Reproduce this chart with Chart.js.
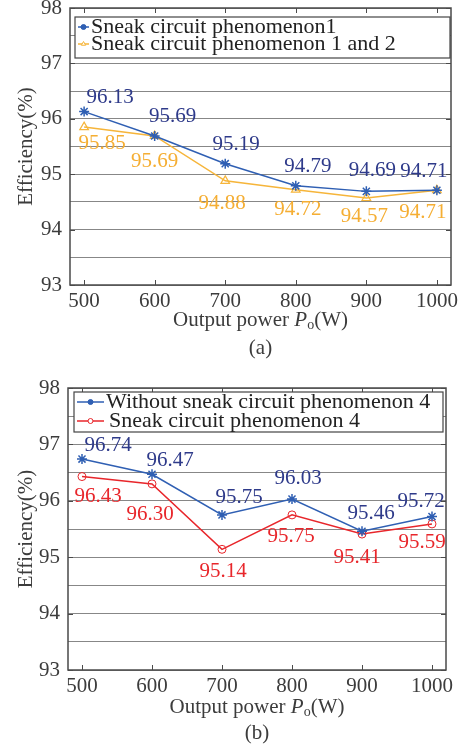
<!DOCTYPE html>
<html>
<head>
<meta charset="utf-8">
<script src="https://cdn.jsdelivr.net/npm/chart.js@4"></script>
<style>
  html, body { margin: 0; padding: 0; background: #fff; }
  canvas { display: block; }
</style>
</head>
<body>
<canvas id="chart-a" width="459" height="370"></canvas>
<canvas id="chart-b" width="459" height="379"></canvas>
<script>
// data
const powers = [500, 600, 700, 800, 900, 1000];
const yTickValues = [93, 94, 95, 96, 97, 98];

const effA1 = [96.13, 95.69, 95.19, 94.79, 94.69, 94.71]; // Sneak circuit phenomenon1
const effA2 = [95.85, 95.69, 94.88, 94.72, 94.57, 94.71]; // phenomenon 1 and 2
const effB1 = [96.74, 96.47, 95.75, 96.03, 95.46, 95.72]; // without phenomenon 4
const effB2 = [96.43, 96.30, 95.14, 95.75, 95.41, 95.59]; // phenomenon 4

// value-label offsets (px) relative to each point
const offA1 = [[26, -14], [18, -19], [11, -19], [12, -19], [6, -21], [-13, -19]];
const offA2 = [[18, 16], [0, 26], [-3, 23], [2, 20], [-2, 18], [-14, 22]];
const offB1 = [[26, -14], [18, -14], [17, -17], [6, -21], [9, -18], [-11, -15]];
const offB2 = [[16, 20], [-2, 31], [1, 22], [-1, 22], [-5, 23], [-10, 19]];

const SERIF = "'Liberation Serif', 'Times New Roman', serif";
const AXIS_GREY = "#3c3c3c";

const pts = (ys) => powers.map((x, i) => ({ x, y: ys[i] }));

// value labels next to each point
const valueLabels = {
  id: "valueLabels",
  afterDatasetsDraw(chart) {
    const ctx = chart.ctx;
    ctx.save();
    ctx.font = `21px ${SERIF}`;
    ctx.textAlign = "center";
    ctx.textBaseline = "middle";
    chart.data.datasets.forEach((ds, di) => {
      const meta = chart.getDatasetMeta(di);
      meta.data.forEach((p, i) => {
        const [dx, dy] = ds.labelOffsets[i];
        ctx.fillStyle = ds.labelColor;
        ctx.fillText(ds.data[i].y.toFixed(2), p.x + dx, p.y + dy);
      });
    });
    ctx.restore();
  },
};

// box frame, inward ticks, x title, caption and the in-plot legend
const frame = {
  id: "frame",
  afterDraw(chart, args, opts) {
    const { ctx, chartArea: a, scales } = chart;
    ctx.save();
    ctx.strokeStyle = "#4a4a4a";
    ctx.lineWidth = 1.5;
    ctx.strokeRect(a.left, a.top, a.right - a.left, a.bottom - a.top);
    ctx.lineWidth = 1;
    powers.forEach((v) => {
      const x = Math.round(scales.x.getPixelForValue(v)) + 0.5;
      ctx.beginPath();
      ctx.moveTo(x, a.top); ctx.lineTo(x, a.top + 5);
      ctx.moveTo(x, a.bottom); ctx.lineTo(x, a.bottom - 5);
      ctx.stroke();
    });
    yTickValues.forEach((v) => {
      const y = Math.round(scales.y.getPixelForValue(v)) + 0.5;
      ctx.beginPath();
      ctx.moveTo(a.left, y); ctx.lineTo(a.left + 5, y);
      ctx.moveTo(a.right, y); ctx.lineTo(a.right - 5, y);
      ctx.stroke();
    });

    // x-axis title: Output power P_o(W)
    const cx = (a.left + a.right) / 2;
    const ty = a.bottom + opts.titleGap;
    const parts = [
      { t: "Output power ", f: `21px ${SERIF}`, dy: 0 },
      { t: "P", f: `italic 21px ${SERIF}`, dy: 0 },
      { t: "o", f: `14px ${SERIF}`, dy: 5 },
      { t: "(W)", f: `21px ${SERIF}`, dy: 0 },
    ];
    let total = 0;
    parts.forEach((p) => { ctx.font = p.f; p.w = ctx.measureText(p.t).width; total += p.w; });
    let x = cx - total / 2;
    ctx.fillStyle = AXIS_GREY;
    ctx.textBaseline = "middle";
    ctx.textAlign = "left";
    parts.forEach((p) => { ctx.font = p.f; ctx.fillText(p.t, x, ty + p.dy); x += p.w; });

    ctx.font = `21px ${SERIF}`;
    ctx.textAlign = "center";
    ctx.fillText(opts.caption, cx, a.bottom + opts.captionGap);

    // legend
    const L = opts.legend;
    ctx.fillStyle = "#fff";
    ctx.fillRect(L.x, L.y, L.w, L.h);
    ctx.strokeStyle = "#444";
    ctx.lineWidth = 1.2;
    ctx.strokeRect(L.x, L.y, L.w, L.h);
    chart.data.datasets.forEach((ds, i) => {
      const ry = L.y + L.rowTop + i * L.rowGap;
      ctx.strokeStyle = ds.borderColor;
      ctx.lineWidth = 1.5;
      ctx.beginPath();
      ctx.moveTo(L.x + 3, ry); ctx.lineTo(L.x + 3 + L.lineLen, ry);
      ctx.stroke();
      ctx.fillStyle = ds.legendFill;
      ctx.strokeStyle = ds.pointBorderColor;
      ctx.lineWidth = 1;
      Chart.helpers.drawPoint(ctx, { pointStyle: ds.legendStyle, radius: 2.5, rotation: 0, borderWidth: 1 },
        L.x + 3 + L.lineLen / 2, ry);
      ctx.fillStyle = "#222";
      ctx.textAlign = "left";
      ctx.textBaseline = "middle";
      ctx.font = `22px ${SERIF}`;
      ctx.fillText(ds.label, L.x + L.textX + (ds.textShift || 0), ry);
    });
    ctx.restore();
  },
};

function makeChart(id, datasets, layout) {
  return new Chart(document.getElementById(id), {
    type: "line",
    data: { datasets },
    plugins: [valueLabels, frame],
    options: {
      responsive: false,
      animation: false,
      layout: { padding: { left: 0, right: layout.right, top: layout.top, bottom: 0 } },
      plugins: {
        legend: { display: false },
        tooltip: { enabled: false },
        frame: layout.frame,
      },
      scales: {
        x: {
          type: "linear",
          min: 480,
          max: 1020,
          afterBuildTicks: (s) => { s.ticks = powers.map((v) => ({ value: v })); },
          afterFit: (s) => { s.height = layout.xHeight; s.paddingLeft = 0; s.paddingRight = 0; },
          ticks: {
            color: AXIS_GREY, padding: -4, autoSkip: false, maxRotation: 0,
            font: { family: SERIF, size: 21 },
            callback: (v) => String(v),
          },
          grid: { display: false },
          border: { display: false },
        },
        y: {
          min: 93,
          max: 98,
          afterFit: (s) => { s.width = layout.yWidth; s.paddingTop = 0; s.paddingBottom = 0; },
          ticks: {
            stepSize: 0.5,
            padding: 8,
            autoSkip: false,
            color: AXIS_GREY,
            font: { family: SERIF, size: 21 },
            callback: (v) => (yTickValues.includes(v) ? String(v) : ""),
          },
          grid: { color: "#878787", lineWidth: 1, drawTicks: false },
          border: { display: false },
          title: {
            display: true,
            text: "Efficiency(%)",
            color: AXIS_GREY,
            font: { family: SERIF, size: 21 },
            padding: { top: 14, bottom: 0 },
          },
        },
      },
    },
  });
}

const lineStyle = { borderWidth: 1.5, tension: 0, fill: false };

makeChart("chart-a", [
  {
    ...lineStyle,
    label: "Sneak circuit phenomenon1",
    data: pts(effA1),
    borderColor: "#2f5fb3",
    pointStyle: "star",
    pointRadius: 5,
    pointBorderWidth: 1.5,
    pointBorderColor: "#2f5fb3",
    pointBackgroundColor: "#2f5fb3",
    legendStyle: "circle",
    legendFill: "#2f5fb3",
    labelColor: "#2e3a8a",
    labelOffsets: offA1,
    order: 1,
  },
  {
    ...lineStyle,
    label: "Sneak circuit phenomenon 1 and 2",
    data: pts(effA2),
    borderColor: "#f6b53a",
    pointStyle: "triangle",
    pointRadius: 5,
    pointBorderWidth: 1.2,
    pointBorderColor: "#f6b53a",
    pointBackgroundColor: "rgba(255,255,255,0)",
    legendStyle: "triangle",
    legendFill: "#fff",
    labelColor: "#f5ae33",
    labelOffsets: offA2,
    order: 2,
  },
], {
  right: 8, top: 8, xHeight: 85, yWidth: 70,
  frame: {
    caption: "(a)", titleGap: 35, captionGap: 63,
    legend: { x: 75, y: 17, w: 375, h: 41, rowTop: 10, rowGap: 17, lineLen: 11, textX: 16 },
  },
});

makeChart("chart-b", [
  {
    ...lineStyle,
    label: "Without sneak circuit phenomenon 4",
    data: pts(effB1),
    borderColor: "#2f5fb3",
    pointStyle: "star",
    pointRadius: 5,
    pointBorderWidth: 1.5,
    pointBorderColor: "#2f5fb3",
    pointBackgroundColor: "#2f5fb3",
    legendStyle: "circle",
    legendFill: "#2f5fb3",
    labelColor: "#2e3a8a",
    labelOffsets: offB1,
    order: 1,
  },
  {
    ...lineStyle,
    label: "Sneak circuit phenomenon 4",
    data: pts(effB2),
    borderColor: "#e8262b",
    pointStyle: "circle",
    pointRadius: 4,
    pointBorderWidth: 1,
    pointBorderColor: "#e8262b",
    pointBackgroundColor: "rgba(255,255,255,0)",
    legendStyle: "circle",
    legendFill: "#fff",
    labelColor: "#e8262b",
    labelOffsets: offB2,
    textShift: 3,
    order: 2,
  },
], {
  right: 13, top: 18, xHeight: 79, yWidth: 68,
  frame: {
    caption: "(b)", titleGap: 37, captionGap: 63,
    legend: { x: 74, y: 22, w: 369, h: 40, rowTop: 10, rowGap: 19, lineLen: 27, textX: 32 },
  },
});
</script>
</body>
</html>
